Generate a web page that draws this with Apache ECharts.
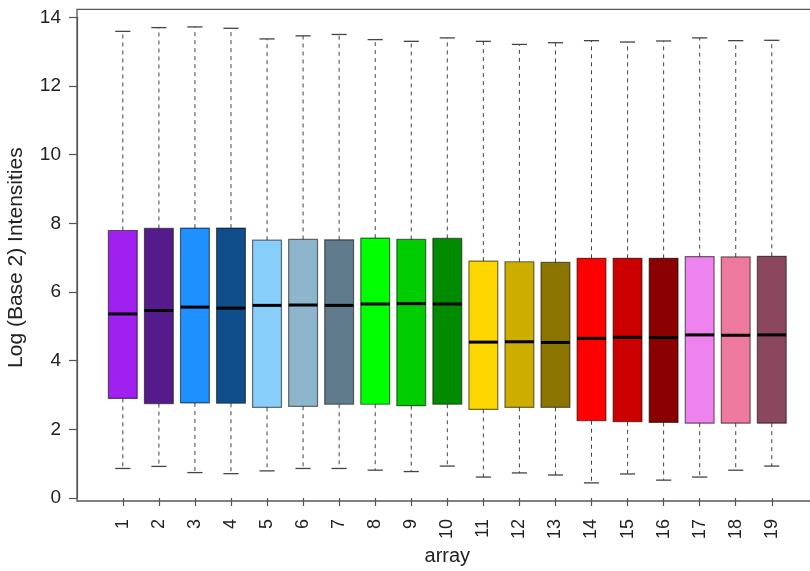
<!DOCTYPE html>
<html>
<head>
<meta charset="utf-8">
<style>
  html, body { margin: 0; padding: 0; background: #fff; }
  #chart { width: 810px; height: 571px; }
</style>
<script src="https://cdn.jsdelivr.net/npm/echarts@6/dist/echarts.min.js"></script>
</head>
<body>
<div id="chart"></div>
<script>
// Array labels on the x axis
const categories = ['1','2','3','4','5','6','7','8','9','10','11','12','13','14','15','16','17','18','19'];

// Five-number summaries of the log2 intensities, one entry per array
const whiskerLow  = [0.86, 0.92, 0.74, 0.71, 0.79, 0.86, 0.86, 0.81, 0.77, 0.93, 0.61, 0.73, 0.67, 0.44, 0.70, 0.52, 0.61, 0.81, 0.93];
const lowerQuart  = [2.90, 2.75, 2.77, 2.76, 2.64, 2.67, 2.73, 2.73, 2.69, 2.73, 2.58, 2.64, 2.64, 2.25, 2.22, 2.20, 2.18, 2.18, 2.18];
const medians     = [5.36, 5.46, 5.56, 5.53, 5.61, 5.62, 5.61, 5.65, 5.66, 5.65, 4.54, 4.55, 4.53, 4.65, 4.68, 4.67, 4.75, 4.74, 4.75];
const upperQuart  = [7.79, 7.85, 7.86, 7.86, 7.51, 7.53, 7.52, 7.57, 7.53, 7.56, 6.90, 6.88, 6.86, 6.98, 6.98, 6.98, 7.03, 7.02, 7.04];
const whiskerHigh = [13.59, 13.70, 13.72, 13.68, 13.37, 13.46, 13.50, 13.35, 13.30, 13.40, 13.30, 13.21, 13.26, 13.32, 13.28, 13.31, 13.40, 13.32, 13.33];

// Y axis tick range
const yTicks = { min: 0, max: 14, step: 2 };

// Box fill colours
const boxColors = [
  '#A020F0', '#551A8B', '#1E90FF', '#104E8B', '#87CEFA', '#8DB6CD', '#607B8B',
  '#00FF00', '#00CD00', '#008B00', '#FFD700', '#CDAD00', '#8B7500',
  '#FF0000', '#CD0000', '#8B0000', '#EE82EE', '#EE799F', '#8B475D'
];

const FONT = '"Liberation Sans", Arial, Helvetica, sans-serif';
const AXIS_COLOR = '#555';

const boxData = categories.map((c, i) => [i, whiskerLow[i], lowerQuart[i], medians[i], upperQuart[i], whiskerHigh[i]]);

function renderBox(params, api) {
  const idx = api.value(0);
  const lo = api.coord([idx, api.value(1)]);
  const q1 = api.coord([idx, api.value(2)]);
  const md = api.coord([idx, api.value(3)]);
  const q3 = api.coord([idx, api.value(4)]);
  const hi = api.coord([idx, api.value(5)]);
  const band = api.size([1, 0])[0];
  const halfBox = band * 0.4;
  const halfCap = band * 0.21;
  const x = lo[0];
  const whiskerStyle = { stroke: '#444', lineWidth: 1, lineDash: [4, 4] };
  const capStyle = { stroke: '#444', lineWidth: 1.3 };
  return {
    type: 'group',
    children: [
      { type: 'line', shape: { x1: x, y1: q3[1], x2: x, y2: hi[1] }, style: whiskerStyle },
      { type: 'line', shape: { x1: x, y1: q1[1], x2: x, y2: lo[1] }, style: whiskerStyle },
      { type: 'line', shape: { x1: x - halfCap, y1: hi[1], x2: x + halfCap, y2: hi[1] }, style: capStyle },
      { type: 'line', shape: { x1: x - halfCap, y1: lo[1], x2: x + halfCap, y2: lo[1] }, style: capStyle },
      {
        type: 'rect',
        shape: { x: x - halfBox, y: q3[1], width: halfBox * 2, height: q1[1] - q3[1] },
        style: { fill: boxColors[params.dataIndex], stroke: 'rgba(0,0,0,0.55)', lineWidth: 1.2 }
      },
      { type: 'line', shape: { x1: x - halfBox, y1: md[1], x2: x + halfBox, y2: md[1] }, style: { stroke: '#000', lineWidth: 3 } }
    ]
  };
}

const chart = echarts.init(document.getElementById('chart'), null, { renderer: 'canvas' });
chart.setOption({
  animation: false,
  backgroundColor: '#fff',
  textStyle: { fontFamily: FONT },
  grid: [
    { left: 104.8, right: 20.2, top: 17.3, bottom: 73, outerBoundsMode: 'none', containLabel: false },
    { left: 77, right: -8, top: 9.3, bottom: 70, outerBoundsMode: 'none', containLabel: false,
      show: true, borderColor: AXIS_COLOR, borderWidth: 1.3, backgroundColor: 'transparent' }
  ],
  xAxis: [
    {
      type: 'category', gridIndex: 0, data: categories, offset: 3,
      axisLine: { show: false },
      axisTick: { show: true, alignWithLabel: true, length: 8, lineStyle: { color: AXIS_COLOR, width: 1.2 } },
      axisLabel: { rotate: 90, margin: 18, fontSize: 18, color: '#222', fontFamily: FONT, interval: 0 },
      name: 'array', nameLocation: 'middle', nameGap: 44,
      nameTextStyle: { fontSize: 20, color: '#222', fontFamily: FONT },
      splitLine: { show: false }
    },
    { type: 'value', gridIndex: 1, show: false, min: 0, max: 1 }
  ],
  yAxis: [
    {
      type: 'value', gridIndex: 0, min: yTicks.min, max: yTicks.max, interval: yTicks.step, offset: 27.8,
      axisLine: { show: true, lineStyle: { color: AXIS_COLOR, width: 1.2 } },
      axisTick: { show: true, length: 8, lineStyle: { color: AXIS_COLOR, width: 1.2 } },
      axisLabel: { margin: 16, fontSize: 19, color: '#222', fontFamily: FONT },
      splitLine: { show: false },
      name: 'Log (Base 2) Intensities', nameLocation: 'middle', nameGap: 50,
      nameTextStyle: { fontSize: 21, color: '#222', fontFamily: FONT }
    },
    { type: 'value', gridIndex: 1, show: false, min: 0, max: 1 }
  ],
  series: [
    {
      type: 'custom',
      xAxisIndex: 0, yAxisIndex: 0,
      renderItem: renderBox,
      encode: { x: 0, y: [1, 2, 3, 4, 5] },
      data: boxData,
      clip: false
    }
  ]
});
</script>
</body>
</html>
